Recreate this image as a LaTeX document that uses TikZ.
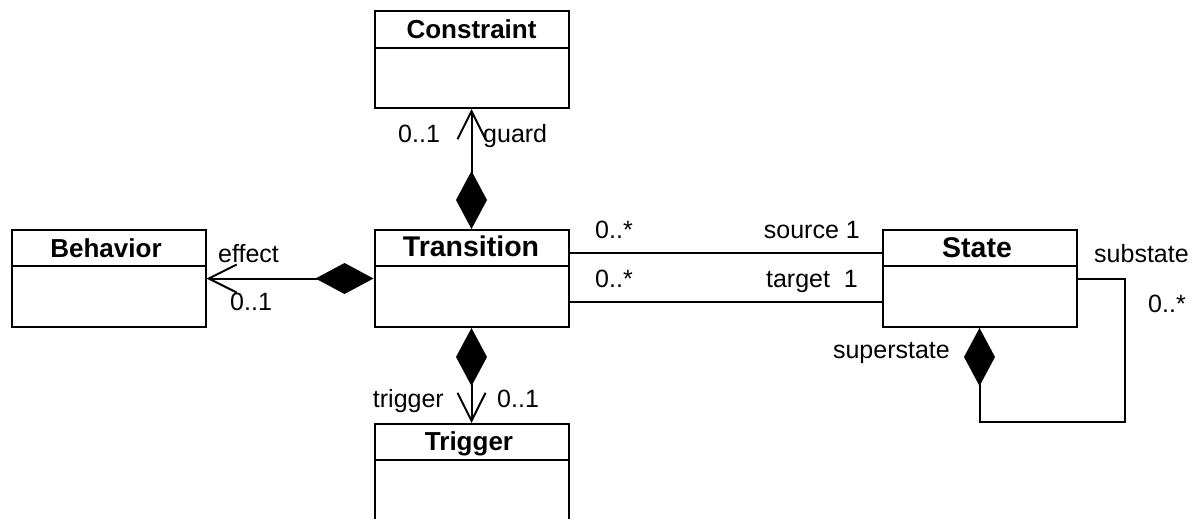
\documentclass[tikz,border=0pt]{standalone}
\usepackage{fontspec}
\setmainfont{Liberation Sans}
\usetikzlibrary{arrows.meta}
\tikzset{
  cls/.style={draw, line width=2pt, minimum width=194pt, minimum height=97pt, inner sep=0pt},
  ttl/.style={font=\fontsize{26}{28}\selectfont\bfseries, anchor=base, inner sep=0pt},
  bigttl/.style={ttl, font=\fontsize{28.5}{30}\selectfont\bfseries},
  lbl/.style={font=\fontsize{25}{27}\selectfont, inner sep=0pt},
  conn/.style={line width=2pt},
  sep/.style={line width=2pt},
  comp/.tip={Diamond[length=58pt,width=31pt]},
  nav/.tip={Straight Barb[length=28pt,width=28pt,line width=2pt]}
}
\begin{document}
\begin{tikzpicture}[x=1pt,y=-1pt]
\useasboundingbox (0,0) rectangle (1204,519);
% classes
\node[cls] (C) at (471.5,59.5) {};
\node[ttl] (Ct) at (471.5,39) {Constraint};
\draw[sep] (C.west |- 0,48) -- (C.east |- 0,48);

\node[cls] (T) at (471.5,278.5) {};
\node[bigttl] (Tt) at (471,256) {Transition};
\draw[sep] (T.west |- 0,266) -- (T.east |- 0,266);

\node[cls] (B) at (108.5,278.5) {};
\node[ttl] (Bt) at (106,257) {Behavior};
\draw[sep] (B.west |- 0,266) -- (B.east |- 0,266);

\node[cls] (S) at (979.5,278.5) {};
\node[bigttl] (St) at (977,257) {State};
\draw[sep] (S.west |- 0,266) -- (S.east |- 0,266);

\node[cls] (G) at (471.5,472.5) {};
\node[ttl] (Gt) at (469,450) {Trigger};
\draw[sep] (G.west |- 0,460) -- (G.east |- 0,460);

% connectors
\draw[conn, {comp}-{nav}] (T.north) -- (C.south);
\draw[conn, {comp}-{nav}] (T.west) -- (B.east);
\draw[conn, {comp}-{nav}] (T.south) -- (G.north);
\draw[conn] (T.east |- 0,253) -- (S.west |- 0,253);
\draw[conn] (T.east |- 0,302) -- (S.west |- 0,302);
\coordinate (lp) at (1125,422);
\draw[conn, {comp}-] (S.south) |- (lp) |- (S.east);

% labels
\node[lbl, anchor=base west] (l1) at (398,142) {0..1};
\node[lbl, anchor=base west] (l2) at (483,142) {guard};
\node[lbl, anchor=base west] (l3) at (218,262) {effect};
\node[lbl, anchor=base west] (l4) at (230,310) {0..1};
\node[lbl, anchor=base west] (l5) at (595,238) {0..*};
\node[lbl, anchor=base west] (l6) at (595,287) {0..*};
\node[lbl, anchor=base east] (l7) at (860,238) {source 1};
\node[lbl, anchor=base east] (l8) at (858,287) {target\ \ 1};
\node[lbl, anchor=base west] (l9) at (1094,262) {substate};
\node[lbl, anchor=base west] (l10) at (1148,312) {0..*};
\node[lbl, anchor=base east] (l11) at (950,358) {superstate};
\node[lbl, anchor=base east] (l12) at (444,407) {trigger};
\node[lbl, anchor=base west] (l13) at (497,407) {0..1};
\end{tikzpicture}
\end{document}
